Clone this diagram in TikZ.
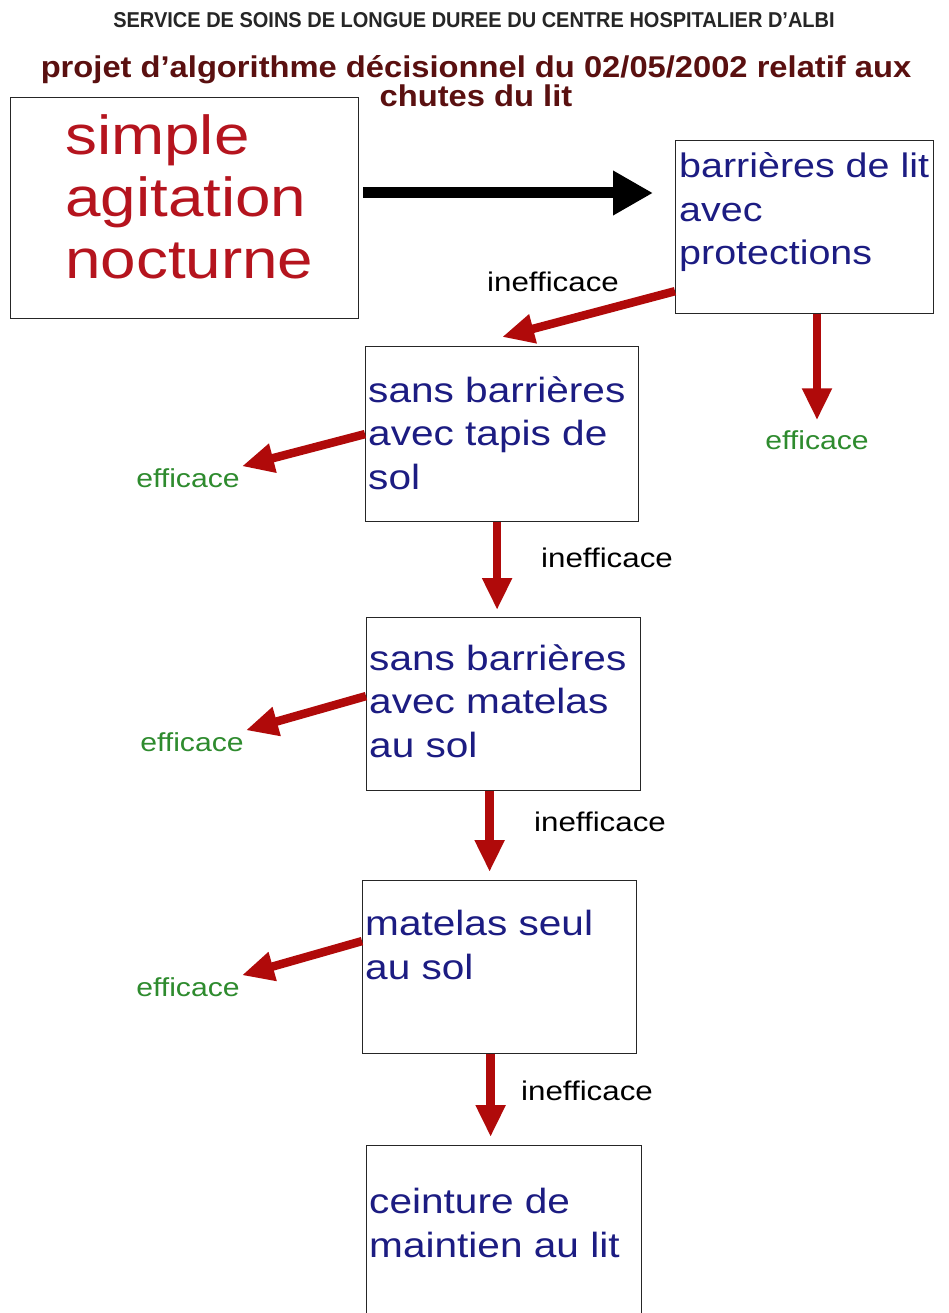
\documentclass[tikz,border=0pt]{standalone}
\usepackage{fontspec}
\setmainfont{Liberation Sans}
\newfontfamily\widefont[FakeStretch=1.16]{Liberation Sans}
\newfontfamily\titlefont[FakeStretch=1.09]{Liberation Sans}
\newfontfamily\headfont[FakeStretch=0.93]{Liberation Sans}
\usepackage{tikz}
\usetikzlibrary{arrows.meta,positioning,calc}
\definecolor{titlered}{HTML}{5A1010}
\definecolor{agitred}{HTML}{B5141E}
\definecolor{boxblue}{HTML}{1C1C82}
\definecolor{okgreen}{HTML}{2E8B2E}
\definecolor{arrowred}{HTML}{B00A0A}
\tikzstyle{box}=[draw=black!85,line width=1.2pt,inner sep=0pt,anchor=north west]
\tikzstyle{boxtext}=[anchor=base west,inner sep=0pt,align=left,text=boxblue,font=\widefont\fontsize{35}{43.5}\selectfont]
\tikzstyle{ok}=[text=okgreen,inner sep=2pt,font=\widefont\fontsize{26}{30}\selectfont]
\tikzstyle{notok}=[text=black,inner sep=2pt,font=\widefont\fontsize{27}{30}\selectfont]
\tikzstyle{redarrow}=[-{Triangle[length=32pt,width=28pt]},draw=arrowred,fill=arrowred,line width=8.5pt]
\tikzstyle{blackarrow}=[-{Triangle[length=40pt,width=42pt]},draw=black,fill=black,line width=11pt]

\begin{document}
\begin{tikzpicture}[x=1pt,y=-1pt]
  \useasboundingbox (0,0) rectangle (948,1313);
  \clip (0,0) rectangle (948,1313);
  \fill[white] (0,0) rectangle (948,1313);
  % titles
  \node[font=\headfont\bfseries\fontsize{21.5}{24}\selectfont,text=black!85] (head) at (474,20)
    {SERVICE DE SOINS DE LONGUE DUREE DU CENTRE HOSPITALIER D’ALBI};
  \node[font=\titlefont\bfseries\fontsize{30}{27}\selectfont,text=titlered,align=center] (title) at (476,81)
    {projet d’algorithme décisionnel du 02/05/2002 relatif aux\\chutes du lit};
  % boxes
  \node[box,minimum width=348pt,minimum height=221pt] (b1) at (10,97) {};
  \node[box,minimum width=258pt,minimum height=173pt] (b2) at (675,140) {};
  \node[box,minimum width=273pt,minimum height=175pt] (b3) at (365,346) {};
  \node[box,minimum width=274pt,minimum height=173pt] (b4) at (366,617) {};
  \node[box,minimum width=274pt,minimum height=173pt] (b5) at (362,880) {};
  \node[box,minimum width=275pt,minimum height=200pt] (b6) at (366,1145) {};
  % box texts (base = last line)
  \node[boxtext,text=agitred,font=\widefont\fontsize{55}{62}\selectfont] (t1) at (65,279) {simple\\agitation\\nocturne};
  \node[boxtext,font=\widefont\fontsize{34}{43.5}\selectfont] (t2) at (679,265) {barrières de lit\\avec\\protections};
  \node[boxtext] (t3) at (368,489) {sans barrières\\avec tapis de\\sol};
  \node[boxtext] (t4) at (369,757) {sans barrières\\avec matelas\\au sol};
  \node[boxtext] (t5) at (365,979) {matelas seul\\au sol};
  \node[boxtext] (t6) at (369,1257) {ceinture de\\maintien au lit};
  % labels
  \foreach \n/\x/\y in {1/553/282,2/607/558,3/600/822,4/587/1091} {
    \node[notok] (i\n) at (\x,\y) {inefficace};
  }
  \foreach \n/\x/\y in {1/817/440,2/188/478,3/192/742,4/188/987} {
    \node[ok] (e\n) at (\x,\y) {efficace};
  }
  % arrows
  \coordinate (k) at (0,193);
  \draw[blackarrow,shorten <=4pt,shorten >=22pt] (b1.east |- k) -- (b2.west |- k);
  \draw[redarrow] ([yshift=23pt]b2.south west) -- ([yshift=9pt]b3.north);
  \draw[redarrow,shorten >=8pt] (e1 |- b2.south) -- (e1.north);
  \draw[redarrow] (b3.west) -- (e2.north east);
  \draw[redarrow] ([yshift=8pt]b4.west) -- (e3.north east);
  \draw[redarrow] ([yshift=26pt]b5.west) -- (e4.north east);
  \draw[redarrow,shorten >=7pt] ([xshift=-5pt]b3.south) -- ([xshift=-5pt]b3.south |- b4.north);
  \draw[redarrow,shorten >=8pt] ([xshift=-14pt]b4.south) -- ([xshift=-14pt]b4.south |- b5.north);
  \draw[redarrow,shorten >=8pt] ([xshift=-9pt]b5.south) -- ([xshift=-9pt]b5.south |- b6.north);
\end{tikzpicture}
\end{document}
